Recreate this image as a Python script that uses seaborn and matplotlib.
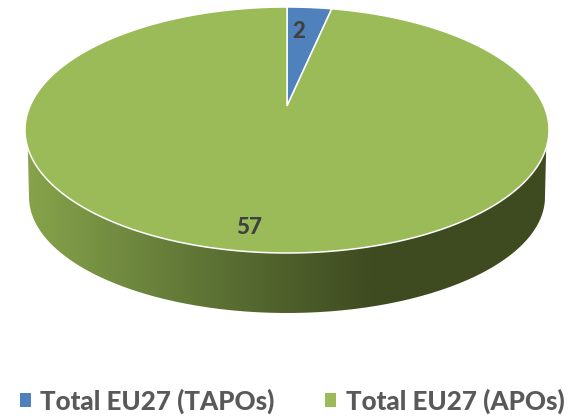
import numpy as np
import matplotlib
matplotlib.use("Agg")
import matplotlib.pyplot as plt
import seaborn as sns
from matplotlib.patches import Polygon
from matplotlib.path import Path
from matplotlib.patches import PathPatch

labels = ["Total EU27 (TAPOs)", "Total EU27 (APOs)"]
values = [2, 57]
colors = ["#4F81BD", "#9BBB59"]
sideColors = ["#87A44B", "#5F7536", "#3E4A20", "#3E4A20"]

# top disc and bottom disc, in picture pixels
cx, cy, a, b = 287, 130, 262, 123
apexY = 106
bottomY, bottomA, bottomB = 197, 258, 116
squash = b / a

def rimPoint(theta):
    # ray from the apex through the tilted disc, up to the rim
    dx = np.sin(theta)
    dy = -squash * np.cos(theta)
    offset = apexY - cy
    qa = (dx / a) ** 2 + (dy / b) ** 2
    qb = 2 * offset * dy / b ** 2
    qc = (offset / b) ** 2 - 1
    s = (-qb + np.sqrt(qb ** 2 - 4 * qa * qc)) / (2 * qa)
    return cx + s * dx, apexY + s * dy

sns.set_theme(style="white")
plt.rcParams["font.family"] = ["Lato", "DejaVu Sans"]

fig = plt.figure(figsize=(5.8, 4.18), dpi=100)
ax = fig.add_axes([0, 0, 1, 1])

# side of the pie: gradient clipped to the outline
tStart = np.arcsin((148 - cy) / b)
t1 = np.linspace(np.pi - tStart, tStart, 200)
t2 = np.linspace(0, np.pi, 200)
sideX = np.concatenate([cx + a * np.cos(t1), cx + bottomA * np.cos(t2)])
sideY = np.concatenate([cy + b * np.sin(t1), bottomY + bottomB * np.sin(t2)])
gradient = sns.blend_palette(sideColors, n_colors=256)
im = ax.imshow(np.array(gradient)[np.newaxis, :, :], extent=[25, 549, 320, 130], aspect="auto", zorder=1)
clip = PathPatch(Path(np.column_stack([sideX, sideY])), transform=ax.transData, fc="none", ec="none")
ax.add_patch(clip)
im.set_clip_path(clip)

# slices on top
edges = np.cumsum([0] + values) / sum(values) * 2 * np.pi
handles = []
for i in range(len(values)):
    thetas = np.linspace(edges[i], edges[i + 1], 400)
    rim = np.array([rimPoint(t) for t in thetas])
    pts = np.vstack([[cx, apexY], rim])
    w = Polygon(pts, closed=True, fc=colors[i], ec="white", lw=1.1, zorder=2, label=labels[i])
    ax.add_patch(w)
    handles.append(w)

ax.text(299, 32, str(values[0]), color="#404040", fontsize=16, fontweight=900, ha="center", va="center", zorder=3)
ax.text(249, 227, str(values[1]), color="#404040", fontsize=16, fontweight=900, ha="center", va="center", zorder=3)

leg = ax.legend(handles=handles, loc="center", bbox_to_anchor=(292 / 580, 1 - 401 / 418), ncols=2, frameon=False,
                handlelength=0.42, handleheight=0.42, handletextpad=0.38, columnspacing=1.93,
                prop={"weight": 900, "size": 18.7})
for t in leg.get_texts():
    t.set_color("#595959")
for h in leg.legend_handles:
    h.set_edgecolor("none")

ax.set_xlim(0, 580)
ax.set_ylim(418, 0)
ax.axis("off")
fig.savefig("out.png", dpi=100)
